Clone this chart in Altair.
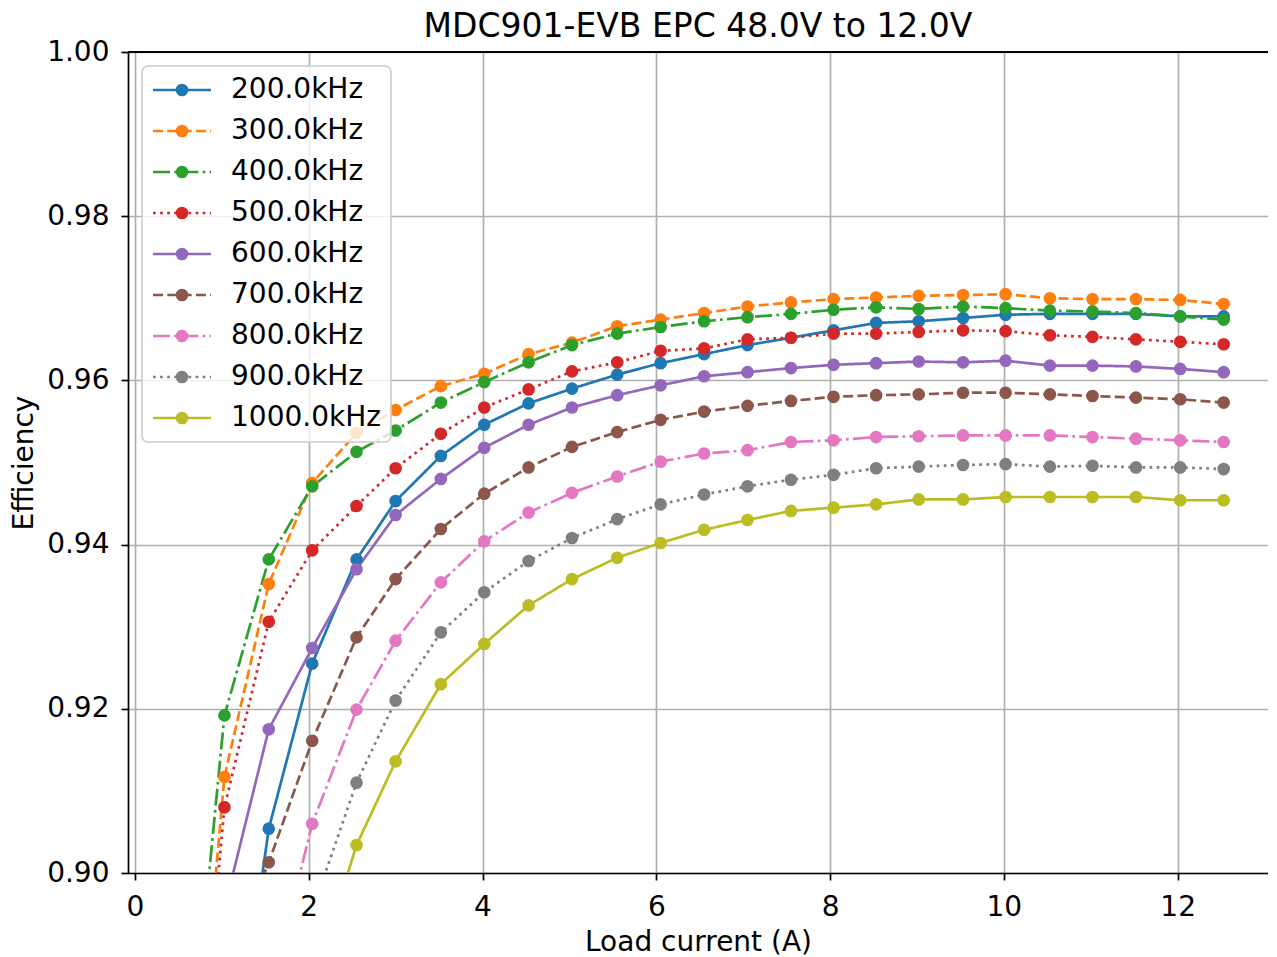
import altair as alt
import pandas as pd

current = [0.52, 1.03, 1.54, 2.04, 2.55, 3.00, 3.52, 4.02, 4.53, 5.03, 5.55, 6.05, 6.55,
           7.05, 7.55, 8.04, 8.53, 9.02, 9.53, 10.02, 10.53, 11.02, 11.52, 12.03, 12.53]

labels = ["200.0kHz", "300.0kHz", "400.0kHz", "500.0kHz", "600.0kHz",
          "700.0kHz", "800.0kHz", "900.0kHz", "1000.0kHz"]

eff_200 = [None, 0.867, 0.9054, 0.9255, 0.9382, 0.9453, 0.9508, 0.9546, 0.9572, 0.9590, 0.9607, 0.9621, 0.9632,
           0.9643, 0.9652, 0.9661, 0.9670, 0.9672, 0.9676, 0.9680, 0.9681, 0.9681, 0.9681, 0.9678, 0.9678]
eff_300 = [0.851, 0.9117, 0.9352, 0.9475, 0.9536, 0.9564, 0.9593, 0.9608, 0.9632, 0.9646, 0.9666, 0.9674, 0.9682,
           0.9690, 0.9695, 0.9699, 0.9701, 0.9703, 0.9704, 0.9705, 0.9700, 0.9699, 0.9699, 0.9698, 0.9693]
eff_400 = [0.8636, 0.9192, 0.9382, 0.9471, 0.9513, 0.9539, 0.9573, 0.9598, 0.9622, 0.9643, 0.9657, 0.9665, 0.9672,
           0.9677, 0.9681, 0.9686, 0.9689, 0.9687, 0.9690, 0.9688, 0.9685, 0.9684, 0.9682, 0.9678, 0.9674]
eff_500 = [0.849, 0.9080, 0.9306, 0.9393, 0.9447, 0.9493, 0.9535, 0.9567, 0.9589, 0.9611, 0.9622, 0.9636, 0.9639,
           0.9650, 0.9652, 0.9657, 0.9657, 0.9659, 0.9661, 0.9660, 0.9655, 0.9653, 0.9650, 0.9647, 0.9644]
eff_600 = [None, 0.8957, 0.9175, 0.9274, 0.9370, 0.9436, 0.9480, 0.9518, 0.9546, 0.9567, 0.9582, 0.9594, 0.9605,
           0.9610, 0.9615, 0.9619, 0.9621, 0.9623, 0.9622, 0.9624, 0.9618, 0.9618, 0.9617, 0.9614, 0.9610]
eff_700 = [None, 0.888, 0.9013, 0.9161, 0.9287, 0.9358, 0.9419, 0.9462, 0.9494, 0.9519, 0.9537, 0.9552, 0.9562,
           0.9569, 0.9575, 0.9580, 0.9582, 0.9583, 0.9585, 0.9585, 0.9583, 0.9581, 0.9579, 0.9577, 0.9573]
eff_800 = [None, None, 0.8845, 0.9060, 0.9199, 0.9283, 0.9354, 0.9404, 0.9439, 0.9463, 0.9483, 0.9501, 0.9511,
           0.9515, 0.9525, 0.9527, 0.9531, 0.9532, 0.9533, 0.9533, 0.9533, 0.9531, 0.9529, 0.9527, 0.9525]
eff_900 = [None, None, None, 0.8954, 0.9110, 0.9210, 0.9293, 0.9342, 0.9380, 0.9408, 0.9431, 0.9449, 0.9461,
           0.9471, 0.9479, 0.9485, 0.9493, 0.9495, 0.9497, 0.9498, 0.9495, 0.9496, 0.9494, 0.9494, 0.9492]
eff_1000 = [None, None, None, 0.886, 0.9034, 0.9136, 0.9230, 0.9279, 0.9326, 0.9358, 0.9384, 0.9402, 0.9418,
            0.9430, 0.9441, 0.9445, 0.9449, 0.9455, 0.9455, 0.9458, 0.9458, 0.9458, 0.9458, 0.9454, 0.9454]

series = [eff_200, eff_300, eff_400, eff_500, eff_600, eff_700, eff_800, eff_900, eff_1000]

colors = ["#1f77b4", "#ff7f0e", "#2ca02c", "#d62728", "#9467bd",
          "#8c564b", "#e377c2", "#7f7f7f", "#bcbd22"]
solid = [1, 0]
dashed = [10, 4.3]
dashdot = [17, 4.3, 2.7, 4.3]
dotted = [2.7, 4.4]
dashes = [solid, dashed, dashdot, dotted, solid, dashed, dashdot, dotted, solid]

rows = []
for lab, vals in zip(labels, series):
    for x, y in zip(current, vals):
        if y is not None:
            rows.append({"current": x, "eff": y, "freq": lab})
df = pd.DataFrame(rows)

FONT = "DejaVu Sans"
LINE_SYMBOL = "M-1.3,0L4.5,0"

line_legend = alt.Legend(
    orient="top-left", offset=14, title=None,
    labelFontSize=28, labelFont=FONT, labelColor="#000000",
    symbolType=LINE_SYMBOL, symbolSize=400, symbolStrokeWidth=2.7,
    padding=10, rowPadding=13, labelOffset=51,
    fillColor="rgba(255,255,255,0.8)", strokeColor="#cccccc", cornerRadius=6,
)
marker_legend = alt.Legend(
    orient="none", legendX=30, legendY=14, title=None,
    labelFontSize=28, labelFont=FONT, labelExpr="' '",
    symbolType="circle", symbolSize=160, symbolStrokeWidth=0, symbolOpacity=1,
    padding=10, rowPadding=13, labelOffset=51,
    fillColor="transparent", strokeColor="transparent",
)

xenc = alt.X("current:Q", scale=alt.Scale(domain=[-0.08, 13.04], nice=False, zero=False),
             axis=alt.Axis(values=[0, 2, 4, 6, 8, 10, 12], title="Load current (A)", format="d"))
yenc = alt.Y("eff:Q", scale=alt.Scale(domain=[0.90, 1.00], nice=False, zero=False),
             axis=alt.Axis(values=[0.90, 0.92, 0.94, 0.96, 0.98, 1.00], format=".2f", title="Efficiency"))

lines = alt.Chart(df).mark_line(strokeWidth=2.7, clip=True).encode(
    x=xenc, y=yenc,
    color=alt.Color("freq:N", scale=alt.Scale(domain=labels, range=colors), legend=line_legend),
    strokeDash=alt.StrokeDash("freq:N", scale=alt.Scale(domain=labels, range=dashes), legend=line_legend),
)
points = alt.Chart(df).mark_circle(size=160, opacity=1, clip=True).encode(
    x=xenc, y=yenc,
    fill=alt.Fill("freq:N", scale=alt.Scale(domain=labels, range=colors), legend=marker_legend),
)
top_spine = alt.Chart(df).mark_rule(color="#000000", strokeWidth=1.7).encode(
    y=alt.datum(1.0)
)

chart = alt.layer(lines, points, top_spine).properties(
    width=1140, height=821,
    padding={"left": 120, "top": 44, "right": 0, "bottom": 84},
    autosize=alt.AutoSizeParams(type="none"),
    title=alt.TitleParams("MDC901-EVB EPC 48.0V to 12.0V", font=FONT, fontSize=33,
                          fontWeight="normal", color="#000000", anchor="middle",
                          frame="group", offset=-6),
).configure_view(stroke=None).configure_axis(
    labelFont=FONT, labelFontSize=28, labelColor="#000000",
    titleFont=FONT, titleFontSize=28, titleFontWeight="normal", titleColor="#000000",
    domainColor="#000000", domainWidth=1.7, tickColor="#000000", tickWidth=1.7, tickSize=7,
    gridColor="#b0b0b0", gridWidth=1.7, grid=True,
).configure_axisX(labelPadding=13, titlePadding=7, labelFlush=False, labelAngle=0
).configure_axisY(labelPadding=12, titlePadding=8, labelFlush=False
).configure_legend(strokeWidth=1.6)

chart.save("out.html", embed_options={"renderer": "svg", "actions": False})
